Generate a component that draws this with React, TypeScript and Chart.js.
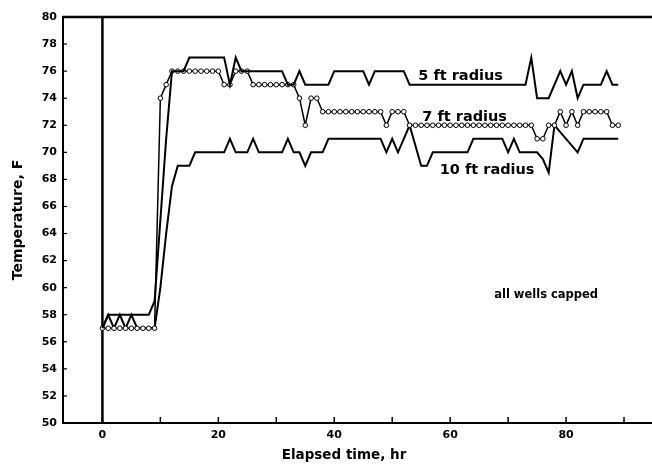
import React, { useEffect, useRef } from 'react';
import { Chart, registerables } from 'chart.js';

Chart.register(...registerables);

const hours = [
  0, 1, 2, 3, 4, 5, 6, 7, 8, 9,
  10, 11, 12, 13, 14, 15, 16, 17, 18, 19,
  20, 21, 22, 23, 24, 25, 26, 27, 28, 29,
  30, 31, 32, 33, 34, 35, 36, 37, 38, 39,
  40, 41, 42, 43, 44, 45, 46, 47, 48, 49,
  50, 51, 52, 53, 54, 55, 56, 57, 58, 59,
  60, 61, 62, 63, 64, 65, 66, 67, 68, 69,
  70, 71, 72, 73, 74, 75, 76, 77, 78, 79,
  80, 81, 82, 83, 84, 85, 86, 87, 88, 89,
];

const radius5ft = [
  57, 58, 58, 58, 58, 58, 58, 58, 58, 59,
  65, 71, 76, 76, 76, 77, 77, 77, 77, 77,
  77, 77, 75, 77, 76, 76, 76, 76, 76, 76,
  76, 76, 75, 75, 76, 75, 75, 75, 75, 75,
  76, 76, 76, 76, 76, 76, 75, 76, 76, 76,
  76, 76, 76, 75, 75, 75, 75, 75, 75, 75,
  75, 75, 75, 75, 75, 75, 75, 75, 75, 75,
  75, 75, 75, 75, 77, 74, 74, 74, 75, 76,
  75, 76, 74, 75, 75, 75, 75, 76, 75, 75,
];

const radius7ft = [
  57, 57, 57, 57, 57, 57, 57, 57, 57, 57,
  74, 75, 76, 76, 76, 76, 76, 76, 76, 76,
  76, 75, 75, 76, 76, 76, 75, 75, 75, 75,
  75, 75, 75, 75, 74, 72, 74, 74, 73, 73,
  73, 73, 73, 73, 73, 73, 73, 73, 73, 72,
  73, 73, 73, 72, 72, 72, 72, 72, 72, 72,
  72, 72, 72, 72, 72, 72, 72, 72, 72, 72,
  72, 72, 72, 72, 72, 71, 71, 72, 72, 73,
  72, 73, 72, 73, 73, 73, 73, 73, 72, 72,
];

const radius10ft = [
  57, 58, 57, 58, 57, 58, 57, 57, 57, 57,
  60, 64, 67.5, 69, 69, 69, 70, 70, 70, 70,
  70, 70, 71, 70, 70, 70, 71, 70, 70, 70,
  70, 70, 71, 70, 70, 69, 70, 70, 70, 71,
  71, 71, 71, 71, 71, 71, 71, 71, 71, 70,
  71, 70, 71, 72, 70.5, 69, 69, 70, 70, 70,
  70, 70, 70, 70, 71, 71, 71, 71, 71, 71,
  70, 71, 70, 70, 70, 70, 69.5, 68.5, 72, 71.5,
  71, 70.5, 70, 71, 71, 71, 71, 71, 71, 71,
];

const xTickMarks = [0, 10, 20, 30, 40, 50, 60, 70, 80, 90];
const xTickLabels = [0, 20, 40, 60, 80];
const yTicks = [50, 52, 54, 56, 58, 60, 62, 64, 66, 68, 70, 72, 74, 76, 78, 80];

const noteTexts = ['5 ft radius', '7 ft radius', '10 ft radius', 'all wells capped'];
const noteX = [54.5, 55.2, 58.2, 67.6];
const noteY = [75.6, 72.6, 68.7, 59.45];
const noteSizes = [14.5, 14.5, 14.5, 11.5];

const xTitle = 'Elapsed time, hr';
const yTitle = 'Temperature, F';

const FONT = '"DejaVu Sans", "Liberation Sans", sans-serif';

const decorPlugin = {
  id: 'decor',
  beforeDatasetsDraw(chart: any) {
    const { ctx, chartArea: a, scales } = chart;
    const x = scales.x;
    const y = scales.y;
    ctx.save();
    ctx.strokeStyle = '#000';
    ctx.lineCap = 'butt';
    // top border
    ctx.lineWidth = 2.5;
    ctx.beginPath();
    ctx.moveTo(a.left - 1, a.top);
    ctx.lineTo(a.right, a.top);
    ctx.stroke();
    // left border
    ctx.lineWidth = 2;
    ctx.beginPath();
    ctx.moveTo(a.left, a.top);
    ctx.lineTo(a.left, a.bottom + 1);
    ctx.stroke();
    // bottom border
    ctx.lineWidth = 2;
    ctx.beginPath();
    ctx.moveTo(a.left - 1, a.bottom);
    ctx.lineTo(a.right, a.bottom);
    ctx.stroke();
    // right faint border
    ctx.strokeStyle = '#999';
    ctx.lineWidth = 1;
    ctx.beginPath();
    ctx.moveTo(a.right - 0.5, a.bottom - 40);
    ctx.lineTo(a.right - 0.5, a.bottom);
    ctx.stroke();
    ctx.strokeStyle = '#000';
    // zero line
    const x0 = x.getPixelForValue(0);
    ctx.lineWidth = 2.5;
    ctx.beginPath();
    ctx.moveTo(x0, a.top);
    ctx.lineTo(x0, a.bottom);
    ctx.stroke();
    // inner ticks
    ctx.lineWidth = 1.2;
    yTicks.forEach((v) => {
      const py = y.getPixelForValue(v);
      ctx.beginPath();
      ctx.moveTo(a.left, py);
      ctx.lineTo(a.left + 4, py);
      ctx.stroke();
    });
    ctx.lineWidth = 1.5;
    xTickMarks.forEach((v) => {
      const px = x.getPixelForValue(v);
      ctx.beginPath();
      ctx.moveTo(px, a.bottom);
      ctx.lineTo(px, a.bottom - 6);
      ctx.stroke();
    });
    ctx.restore();
  },
  afterDatasetsDraw(chart: any) {
    const { ctx, chartArea: a, scales } = chart;
    const x = scales.x;
    const y = scales.y;
    ctx.save();
    ctx.fillStyle = '#000';
    ctx.textBaseline = 'middle';
    ctx.textAlign = 'left';
    noteTexts.forEach((t, i) => {
      ctx.font = `bold ${noteSizes[i]}px ${FONT}`;
      ctx.fillText(t, x.getPixelForValue(noteX[i]), y.getPixelForValue(noteY[i]));
    });
    // axis titles
    ctx.textAlign = 'center';
    ctx.font = `bold 13.5px ${FONT}`;
    ctx.fillText(xTitle, 344, a.bottom + 32);
    ctx.save();
    ctx.translate(18, (a.top + a.bottom) / 2);
    ctx.rotate(-Math.PI / 2);
    ctx.font = `bold 14px ${FONT}`;
    ctx.fillText(yTitle, 0, 0);
    ctx.restore();
    ctx.restore();
  },
};

export default function App() {
  const canvasRef = useRef<HTMLCanvasElement | null>(null);

  useEffect(() => {
    if (!canvasRef.current) return;
    const mk = (vals: number[]) => hours.map((h, i) => ({ x: h, y: vals[i] }));
    const chart = new Chart(canvasRef.current, {
      type: 'line',
      data: {
        datasets: [
          {
            label: '5 ft radius',
            data: mk(radius5ft),
            borderColor: '#000',
            borderWidth: 2,
            pointRadius: 0,
            tension: 0,
          },
          {
            label: '7 ft radius',
            data: mk(radius7ft),
            borderColor: '#000',
            borderWidth: 1.5,
            pointRadius: 2.3,
            pointStyle: 'circle',
            pointBackgroundColor: '#fff',
            pointBorderColor: '#000',
            pointBorderWidth: 1,
            tension: 0,
          },
          {
            label: '10 ft radius',
            data: mk(radius10ft),
            borderColor: '#000',
            borderWidth: 2,
            pointRadius: 0,
            tension: 0,
          },
        ],
      },
      options: {
        animation: false,
        responsive: false,
        layout: { padding: { top: 17, right: 0, left: 0, bottom: 0 } },
        plugins: {
          legend: { display: false },
          tooltip: { enabled: false },
        },
        scales: {
          x: {
            type: 'linear',
            min: -6.8,
            max: 95,
            grid: { display: false, drawTicks: false },
            border: { display: false },
            afterBuildTicks: (s: any) => {
              s.ticks = xTickMarks.map((v) => ({ value: v }));
            },
            afterFit: (s: any) => {
              s.height = 47;
            },
            ticks: {
              padding: 6,
              color: '#000',
              font: { family: FONT, weight: 'bold', size: 11 },
              maxRotation: 0,
              autoSkip: false,
              callback: (v: any) => (xTickLabels.includes(Number(v)) ? String(v) : ''),
            },
          },
          y: {
            type: 'linear',
            min: 50,
            max: 80,
            grid: { display: false, drawTicks: false },
            border: { display: false },
            afterBuildTicks: (s: any) => {
              s.ticks = yTicks.map((v) => ({ value: v }));
            },
            afterFit: (s: any) => {
              s.width = 63;
            },
            ticks: {
              padding: 6,
              color: '#000',
              font: { family: FONT, weight: 'bold', size: 11 },
              autoSkip: false,
              callback: (v: any) => String(v),
            },
          },
        },
      },
      plugins: [decorPlugin],
    } as any);
    return () => chart.destroy();
  }, []);

  return (
    <div style={{ position: 'absolute', left: 0, top: 0, width: 652, height: 470, overflow: 'hidden', background: '#fff' }}>
      <canvas ref={canvasRef} width={658} height={470} style={{ display: 'block' }} />
    </div>
  );
}
